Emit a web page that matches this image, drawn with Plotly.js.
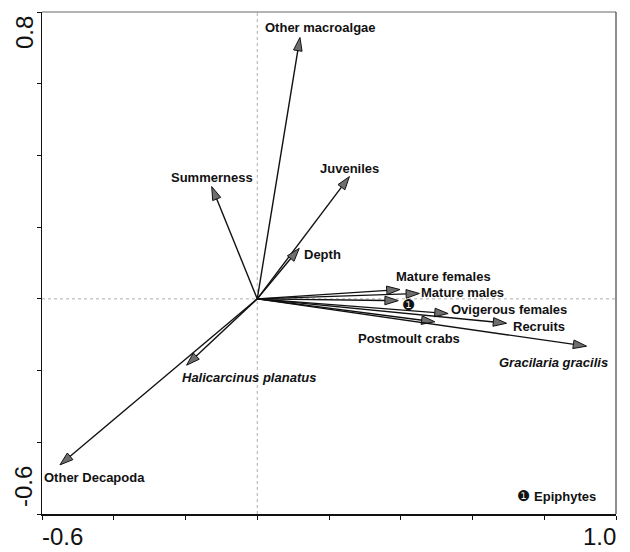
<!DOCTYPE html>
<html>
<head>
<meta charset="utf-8">
<script src="https://cdn.plot.ly/plotly-3.0.1.min.js"></script>
<style>html,body{margin:0;padding:0;background:#fff;}#chart{width:630px;height:552px;}</style>
</head>
<body>
<div id="chart"></div>
<script>
// Variable names (arrow labels)
var variables = ["Other macroalgae","Summerness","Juveniles","Depth","Mature females","Mature males","Epiphytes","Ovigerous females","Postmoult crabs","Recruits","Gracilaria gracilis","Halicarcinus planatus","Other Decapoda"];
// Arrow end coordinates (axis 1, axis 2)
var axis1 = [0.119,-0.127,0.257,0.117,0.398,0.452,0.393,0.532,0.495,0.695,0.918,-0.197,-0.550];
var axis2 = [0.729,0.313,0.341,0.141,0.026,0.015,-0.005,-0.041,-0.064,-0.068,-0.132,-0.185,-0.463];
// Axis tick values and end labels
var tickVals = [-0.6,-0.4,-0.2,0,0.2,0.4,0.6,0.8,1.0];
var xEndLabels = ["-0.6","1.0"];
var yEndLabels = ["-0.6","0.8"];

// Label styling / placement (pixels relative to arrow tip)
var labelDx = [21,0,0,23,43,43,10,61,-26,32,-33,62,35];
var labelDy = [10,9,8,-6,13,1,-4,4,-17,-3,-16,-12,-13];
var italicLabel = [false,false,false,false,false,false,false,false,false,false,true,true,false];
var epiphyteMark = "\u2776";

var traces = variables.map(function(name, i){
  return {
    x:[0, axis1[i]], y:[0, axis2[i]],
    mode:'lines+markers', type:'scatter', hoverinfo:'skip', showlegend:false,
    line:{color:'#111', width:1.4},
    marker:{symbol:'arrow', angleref:'previous', size:14, color:'#6e6e6e', line:{color:'#111', width:1}}
  };
});

var labelFont = 'Liberation Sans, Arial, Helvetica, sans-serif';
var annotations = variables.map(function(name, i){
  var isEpi = name === "Epiphytes";
  var txt = isEpi ? epiphyteMark : (italicLabel[i] ? '<b><i>'+name+'</i></b>' : '<b>'+name+'</b>');
  return {
    x:axis1[i], y:axis2[i], xref:'x', yref:'y', text:txt, showarrow:false,
    xshift:labelDx[i], yshift:labelDy[i], xanchor:'center', yanchor:'middle',
    font:{family: isEpi ? 'DejaVu Sans' : labelFont, size: isEpi ? 15 : 13, color:'#111'}
  };
});

annotations.push({xref:'paper', yref:'paper', x:0.896, y:0.036, showarrow:false, xanchor:'center', yanchor:'middle',
  text:'<span style="font-family:DejaVu Sans;font-size:15px">'+epiphyteMark+'</span> <b>Epiphytes</b>',
  font:{family:labelFont, size:13, color:'#111'}});

var tickFont = {family:'Liberation Sans, Arial, sans-serif', size:24, color:'#111'};
annotations.push({xref:'paper', yref:'paper', x:0, y:0, xanchor:'left', yanchor:'top', yshift:-7, xshift:-2, showarrow:false, text:xEndLabels[0], font:tickFont});
annotations.push({xref:'paper', yref:'paper', x:1, y:0, xanchor:'right', yanchor:'top', yshift:-7, xshift:2, showarrow:false, text:xEndLabels[1], font:tickFont});
annotations.push({xref:'paper', yref:'paper', x:0, y:0, xanchor:'center', yanchor:'middle', xshift:-19, yshift:27, textangle:-90, showarrow:false, text:yEndLabels[0], font:tickFont});
annotations.push({xref:'paper', yref:'paper', x:0, y:1, xanchor:'center', yanchor:'middle', xshift:-18, yshift:-21, textangle:-90, showarrow:false, text:yEndLabels[1], font:tickFont});

var layout = {
  width:630, height:552,
  margin:{l:42, r:14, t:12, b:38, pad:0},
  paper_bgcolor:'#fff', plot_bgcolor:'#fff',
  showlegend:false,
  xaxis:{range:[tickVals[0], tickVals[tickVals.length-1]], tickvals:tickVals, showticklabels:false, ticks:'outside', ticklen:4, tickcolor:'#111', tickwidth:1,
    showgrid:false, zeroline:false, showline:true, linecolor:'#111', linewidth:1.5, fixedrange:true},
  yaxis:{range:[-0.6, 0.8], tickvals:tickVals, showticklabels:false, ticks:'outside', ticklen:4, tickcolor:'#111', tickwidth:1,
    showgrid:false, zeroline:false, showline:true, linecolor:'#111', linewidth:1.5, fixedrange:true},
  shapes:[
    {type:'line', xref:'x', yref:'paper', x0:0, x1:0, y0:0, y1:1, line:{color:'#999', width:0.8, dash:'dot'}, layer:'below'},
    {type:'line', xref:'paper', yref:'y', x0:0, x1:1, y0:0, y1:0, line:{color:'#999', width:0.8, dash:'dot'}, layer:'below'},
    {type:'line', xref:'paper', yref:'paper', x0:0, x1:1, y0:1, y1:1, line:{color:'#666', width:1}},
    {type:'line', xref:'paper', yref:'paper', x0:1, x1:1, y0:0, y1:1, line:{color:'#444', width:1.2}}
  ],
  annotations:annotations
};

Plotly.newPlot('chart', traces, layout, {displayModeBar:false, staticPlot:true});
</script>
</body>
</html>
